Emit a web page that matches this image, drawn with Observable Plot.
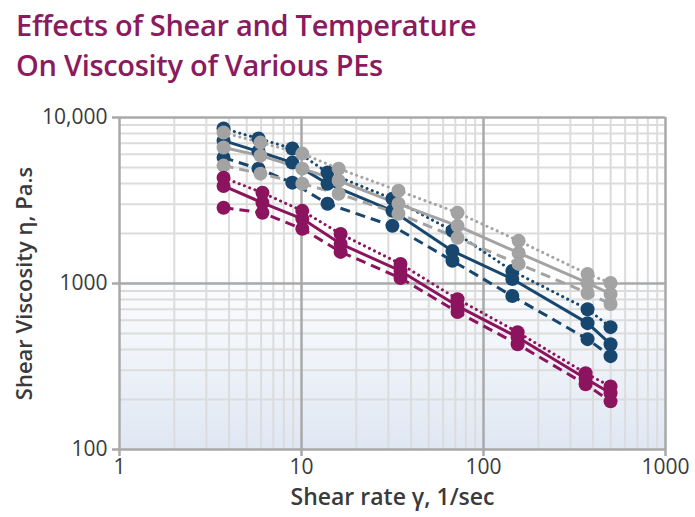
<!DOCTYPE html>
<html><head><meta charset="utf-8">
<script src="https://cdn.jsdelivr.net/npm/d3@7"></script>
<script src="https://cdn.jsdelivr.net/npm/@observablehq/plot@0.6"></script>
<style>
body{margin:0;background:#fff;font-family:"Open Sans",sans-serif;}
#title{color:#8b1a5e;font-weight:600;font-size:29px;line-height:40px;padding:5px 0 0 16px;height:95px;box-sizing:border-box;letter-spacing:-0.3px;}
#chart svg [aria-label="x-axis label"]{font-weight:600;font-size:23px;}
#chart svg [aria-label="y-axis label"]{font-weight:600;font-size:22px;}
#chart svg [aria-label$="tick label"]{font-size:21px;}
</style></head><body>
<div id="title">Effects of Shear and Temperature<br>On Viscosity of Various PEs</div>
<div id="chart"></div>
<script>
// Shear rates (1/sec) per colour group
const navyX    = [3.73, 5.8, 8.9, 13.9, 31.6, 67.5, 144, 373, 499];
const grayX    = [3.73, 5.95, 10.1, 16, 34.1, 72, 156, 373, 499];
const magentaX = [3.73, 6.1, 10.1, 16.4, 35, 72, 154, 364, 499];

// Shear viscosity (Pa.s)
const navyDotted    = [8580, 7470, 6500, 4660, 3240, 2080, 1190, 700, 546];
const navySolid     = [7260, 6240, 5350, 3990, 2740, 1570, 1064, 577, 431];
const navyDashed    = [5730, 4920, 4050, 3020, 2225, 1370, 840, 462, 365];
const grayDotted    = [8115, 7060, 6060, 4920, 3620, 2670, 1807, 1141, 1007];
const graySolid     = [6590, 5890, 4920, 4160, 3020, 2225, 1528, 1007, 865];
const grayDashed    = [5130, 4590, 3990, 3474, 2630, 1884, 1312, 877, 752];
const magentaDotted = [4340, 3520, 2740, 1990, 1312, 805, 509, 288, 240];
const magentaSolid  = [3870, 3064, 2454, 1733, 1190, 731, 475, 268, 218];
const magentaDashed = [2858, 2667, 2135, 1550, 1079, 673, 431, 247, 195];

const xTicks = [1, 10, 100, 1000];
const yTicks = [100, 1000, 10000];
const yTickLabels = ["100", "1000", "10,000"];

const colors = {navy: "#17466e", gray: "#a3a3a3", magenta: "#8c145f"};
const dashes = {dotted: "0.1,5.5", solid: null, dashed: "10,6"};

const series = [
  {group: "navy", style: "dotted", xs: navyX, ys: navyDotted},
  {group: "navy", style: "solid", xs: navyX, ys: navySolid},
  {group: "navy", style: "dashed", xs: navyX, ys: navyDashed},
  {group: "gray", style: "dotted", xs: grayX, ys: grayDotted},
  {group: "gray", style: "solid", xs: grayX, ys: graySolid},
  {group: "gray", style: "dashed", xs: grayX, ys: grayDashed},
  {group: "magenta", style: "dotted", xs: magentaX, ys: magentaDotted},
  {group: "magenta", style: "solid", xs: magentaX, ys: magentaSolid},
  {group: "magenta", style: "dashed", xs: magentaX, ys: magentaDashed}
];
const tables = series.map(s => s.xs.map((x, i) => ({shear: x, visc: s.ys[i]})));

// minor grid positions (2..9 within each decade)
const xMinor = [], yMinor = [];
for (const d of [1, 10, 100]) for (let k = 2; k <= 9; k++) xMinor.push(k * d);
for (const d of [100, 1000]) for (let k = 2; k <= 9; k++) yMinor.push(k * d);

const lineMarks = series.map((s, i) => Plot.line(tables[i], {
  x: "shear", y: "visc", stroke: colors[s.group], strokeWidth: s.style === "dotted" ? 3 : 3,
  strokeDasharray: dashes[s.style], strokeLinecap: s.style === "dotted" ? "round" : "butt"
}));
const dotMarks = series.map((s, i) => Plot.dot(tables[i], {
  x: "shear", y: "visc", r: 7, fill: colors[s.group], stroke: "none"
}));

const chart = Plot.plot({
  width: 695, height: 422,
  marginTop: 22, marginRight: 30, marginBottom: 68, marginLeft: 119,
  style: {fontFamily: "Open Sans, sans-serif", fontSize: "21px", color: "#3a3a3a", background: "transparent", overflow: "visible"},
  x: {type: "log", domain: [1, 1000]},
  y: {type: "log", domain: [100, 10000]},
  marks: [
    Plot.frame({fill: "url(#bgGrad)", stroke: "none"}),
    Plot.ruleX(xMinor, {stroke: "#dcdcdc", strokeWidth: 2}),
    Plot.ruleY(yMinor, {stroke: "#dcdcdc", strokeWidth: 2}),
    Plot.ruleX(xTicks, {stroke: "#a9a9a9", strokeWidth: 2.5}),
    Plot.ruleY(yTicks, {stroke: "#a9a9a9", strokeWidth: 2.5}),
    Plot.axisX({ticks: xTicks, tickFormat: d => String(d), tickSize: 7, tickPadding: 3, stroke: "#a9a9a9", strokeWidth: 2.5,
      label: "Shear rate γ, 1/sec", labelAnchor: "center", labelArrow: "none", labelOffset: 55}),
    Plot.axisY({ticks: yTicks, tickFormat: d => yTickLabels[yTicks.indexOf(d)], tickSize: 7, tickPadding: 5, stroke: "#a9a9a9", strokeWidth: 2.5,
      label: "Shear Viscosity η, Pa.s", labelAnchor: "center", labelArrow: "none", labelOffset: 103}),
    ...lineMarks,
    ...dotMarks
  ]
});

const defs = document.createElementNS("http://www.w3.org/2000/svg", "defs");
defs.innerHTML = `<linearGradient id="bgGrad" x1="0" y1="0" x2="0" y2="1">
  <stop offset="0" stop-color="#ffffff"/><stop offset="0.45" stop-color="#ffffff"/>
  <stop offset="1" stop-color="#dfe7f3"/></linearGradient>`;
chart.insertBefore(defs, chart.firstChild);
document.getElementById("chart").appendChild(chart);
</script>
</body></html>
